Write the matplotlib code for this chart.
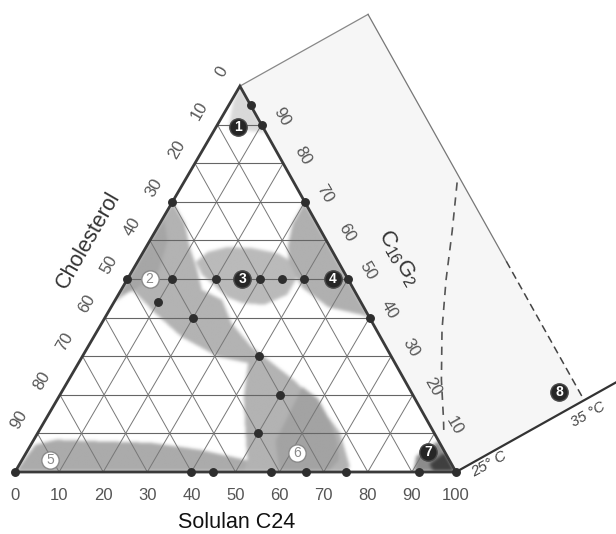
import numpy as np
import matplotlib
matplotlib.use('Agg')
import matplotlib.pyplot as plt
from matplotlib.patches import Polygon
from matplotlib.path import Path

plt.rcParams['font.family'] = ['Liberation Sans', 'DejaVu Sans']
plt.rcParams['mathtext.fontset'] = 'custom'
plt.rcParams['mathtext.rm'] = 'Liberation Sans'
plt.rcParams['mathtext.it'] = 'Liberation Sans:italic'

# ---------------- data (ternary: Solulan C24 %, C16G2 %) ----------------
ticks_bottom = [0, 10, 20, 30, 40, 50, 60, 70, 80, 90, 100]   # Solulan C24
ticks_left = [0, 10, 20, 30, 40, 50, 60, 70, 80, 90]          # Cholesterol
ticks_right = [10, 20, 30, 40, 50, 60, 70, 80, 90]            # C16G2

dots_s = [5, 10, 0, 30, 0, 10, 20, 30, 35, 40, 50, 10, 20, 60, 40, 50, 50,
          0, 40, 45, 58, 66, 75, 91.5, 100]
dots_g = [95, 90, 70, 70, 50, 50, 50, 50, 50, 50, 50, 44, 40, 40, 30, 20, 10,
          0, 0, 0, 0, 0, 0, 0, 0]

phase_names = ['1', '2', '3', '4', '5', '6', '7']
phase_s = [5, 5, 26, 46.5, 6.5, 61.5, 91]
phase_g = [89.5, 50, 50, 50, 3, 5, 5.2]
phase_dark = [True, False, True, True, False, False, True]

# phase 8 lies in the temperature extension: (C16G2 %, temperature °C)
phase8_g, phase8_t = 4.3, 33.8

# phase-region outlines (Solulan %, C16G2 %) and their grey depth (0 white .. 1 black)
region1_s = [0, 12, 3, 0.5]
region1_g = [100, 88, 89, 96]

regionA_s = [0, 5.6, 9.9, 14.5, 18.3, 24.2, 29.4, 37.1, 41, 51.1, 60.8, 68.6,
             75.3, 75, 51, 51.1, 46.7, 42.0, 38.5, 30.9, 19.9, 10.7, 2.5, 0]
regionA_g = [70, 64.5, 58.3, 52.5, 47.2, 44.6, 38.6, 32.4, 30, 23.8, 16.8, 10.1,
             1.3, 0, 0, 3.1, 10.9, 19.4, 28.2, 29.8, 35.0, 41.2, 47.2, 44]

core6_s = [54, 59, 64, 69, 72, 71, 60, 55]
core6_g = [22, 19, 14, 8, 3, 0, 0, 8]

core2_s = [0, 4, 6, 3, 0]
core2_g = [66, 60, 52, 47, 46]

region3_s = [13.2, 14.6, 18.5, 24.3, 30.6, 35.2, 38.3, 38.3, 34.4, 29.1, 25.0, 20.5, 16.5]
region3_g = [54.4, 57.0, 58.3, 58.0, 56.7, 54.4, 50.3, 45.9, 43.3, 43.8, 45.3, 48.4, 51.0]

region4_s = [30, 30.1, 32.1, 34.6, 40.6, 49.3, 57.9, 60]
region4_g = [70, 64.5, 58.3, 54.1, 47.9, 42.7, 40.7, 40]

region5_s = [0, 0.5, 1, 5, 12, 27, 39, 47, 51, 52]
region5_g = [0, 4, 7, 8.3, 8, 7.5, 5.7, 3.9, 3, 0]

region7_s = [100, 92, 89, 90.5]
region7_g = [0, 8, 4, 0]
core7_s = [100, 95, 93, 95]
core7_g = [0, 5, 2, 0]

# dashed phase boundary in the extension (C16G2 %, temperature °C)
bound_g = [57, 48, 39, 29.6, 19.8, 11.7, 9.2]
bound_t = [34.7, 32.8, 30.8, 28.9, 27.2, 26.0, 25.6]

# ---------------- geometry ----------------
AX, AY = 0.51, 0.875


def tern(s, g):
    s = np.asarray(s, dtype=float) / 100.0
    g = np.asarray(g, dtype=float) / 100.0
    return s + AX * g, AY * g


edge = np.array([AX - 1.0, AY])
L = np.hypot(*edge)
nrm = np.array([AY, 1.0 - AX]) / L
WID = 0.333  # width of 10 °C


def ext(g, t):
    g = np.asarray(g, dtype=float)
    t = np.asarray(t, dtype=float)
    x, y = tern(100 - g, g)
    f = (t - 25.0) / 10.0 * WID
    return x + f * nrm[0], y + f * nrm[1]


fig = plt.figure(figsize=(6.16, 5.34), dpi=100)
ax = fig.add_axes([0, 0, 1, 1])
ax.set_xlim(-15 / 441, 601 / 441)
ax.set_ylim(-62 / 441, 472 / 441)
ax.axis('off')

# extension rectangle
rx, ry = ext([0, 100, 100, 0], [25, 25, 35, 35])
ax.add_patch(Polygon(np.column_stack([rx, ry]), closed=True, fc='#f6f6f6', ec='none', zorder=0))
x, y = ext([100, 100], [25, 35])
ax.plot(x, y, color='#888888', lw=0.9, zorder=2)
x, y = ext([100, 36], [35, 35])
ax.plot(x, y, color='#777777', lw=0.9, zorder=2)
x, y = ext([36, 0], [35, 35])
ax.plot(x, y, color='#444444', lw=1.1, ls=(0, (5, 3)), zorder=2)
x, y = ext([0, 0], [25, 38])
ax.plot(x, y, color='#333333', lw=1.6, zorder=3)
x, y = ext(bound_g, bound_t)
ax.plot(x, y, color='#555555', lw=1.2, ls=(0, (5, 4)), zorder=2)

# ---- shaded phase regions: rasterised, softly blurred ----
NX, NY = 700, 620
gx = np.linspace(0, 1, NX)
gy = np.linspace(0, AY, NY)
XX, YY = np.meshgrid(gx, gy)
pts = np.column_stack([XX.ravel(), YY.ravel()])
depth = np.zeros(XX.shape)
layers = [
    (region1_s, region1_g, 0.15),
    (regionA_s, regionA_g, 0.30),
    (core2_s, core2_g, 0.35),
    (core6_s, core6_g, 0.36),
    (region3_s, region3_g, 0.27),
    (region4_s + [60, 30], region4_g + [40, 70], 0.31),
    (region5_s, region5_g, 0.33),
    (region7_s, region7_g, 0.45),
    (core7_s, core7_g, 0.75),
]
for s, g, d in layers:
    px, py = tern(s, g)
    m = Path(np.column_stack([px, py])).contains_points(pts).reshape(XX.shape)
    depth = np.maximum(depth, m * d)
sig = 2.6
kx = np.arange(-9, 10)
ker = np.exp(-0.5 * (kx / sig) ** 2)
ker /= ker.sum()
depth = np.apply_along_axis(lambda r: np.convolve(r, ker, mode='same'), 1, depth)
depth = np.apply_along_axis(lambda c: np.convolve(c, ker, mode='same'), 0, depth)
img = 1.0 - depth
tx, ty = tern([0, 100, 0], [0, 0, 100])
tri = Polygon(np.column_stack([tx, ty]), closed=True, fc='none', ec='none')
ax.add_patch(tri)
im = ax.imshow(img, cmap='gray', vmin=0, vmax=1, origin='lower',
               extent=(0, 1, 0, AY), interpolation='bilinear', zorder=1, aspect='auto')
im.set_clip_path(tri)

# grid
for k in range(10, 100, 10):
    x, y = tern([0, 100 - k], [k, k])
    ax.plot(x, y, color='#666666', lw=0.8, zorder=2)
    x, y = tern([k, k], [0, 100 - k])
    ax.plot(x, y, color='#777777', lw=0.7, zorder=2)
    x, y = tern([100 - k, 0], [0, 100 - k])
    ax.plot(x, y, color='#777777', lw=0.7, zorder=2)

# triangle outline
x, y = tern([0, 100, 0, 0], [0, 0, 100, 0])
ax.plot(x, y, color='#3a3a3a', lw=2.0, zorder=3, solid_joinstyle='miter')

# dots
x, y = tern(dots_s, dots_g)
ax.plot(x, y, 'o', color='#2e2e2e', ms=5.4, zorder=4, ls='none')

# phase labels
for name, s, g, dark in zip(phase_names, phase_s, phase_g, phase_dark):
    x, y = tern(s, g)
    if dark:
        ax.plot(x, y, 'o', ms=12.5, mfc='#262626', mec='#4a4a4a', zorder=5)
        ax.text(x, y, name, color='white', fontsize=10, fontweight='bold',
                ha='center', va='center', zorder=6)
    else:
        ax.plot(x, y, 'o', ms=12.5, mfc='white', mec='#8a8a8a', mew=1.0, zorder=5)
        ax.text(x, y, name, color='#8a8a8a', fontsize=10,
                ha='center', va='center', zorder=6)
x, y = ext(phase8_g, phase8_t)
ax.plot(x, y, 'o', ms=12.5, mfc='#262626', mec='#4a4a4a', zorder=5)
ax.text(x, y, '8', color='white', fontsize=10, fontweight='bold', ha='center', va='center', zorder=6)

# tick labels
tick_col = '#555555'
for v in ticks_bottom:
    x, y = tern(v, 0)
    ax.text(x, y - 23 / 441, str(v), fontsize=12, color=tick_col, ha='center', va='center')
for v in ticks_left:
    x, y = tern(0, 100 - v)
    ax.text(x - 18 / 441, y + 14 / 441, str(v), fontsize=12, color=tick_col,
            ha='center', va='center', rotation=60, rotation_mode='anchor')
for v in ticks_right:
    x, y = tern(100 - v, v)
    ax.text(x + 20 / 441, y + 8 / 441, str(v), fontsize=12, color=tick_col,
            ha='center', va='center', rotation=-60, rotation_mode='anchor')

# axis titles
ax.text(73 / 441, 232 / 441, 'Cholesterol', fontsize=15.5, color='#333333',
        ha='center', va='center', rotation=60, rotation_mode='anchor')
ax.text(383 / 441, 214 / 441, r'C$_{\mathrm{16}}$G$_{\mathrm{2}}$', fontsize=16, color='#333333',
        ha='center', va='center', rotation=-60, rotation_mode='anchor')
ax.text(222 / 441, -50 / 441, 'Solulan C24', fontsize=15.5, color='#111111',
        ha='center', va='center')

# temperature labels
x, y = ext(-2, 27.2)
ax.text(x, y, '25° C', fontsize=11, style='italic', color='#444444', ha='center', va='center',
        rotation=29.2, rotation_mode='anchor')
x, y = ext(-3.2, 34.8)
ax.text(x, y, '35 °C', fontsize=10.5, style='italic', color='#444444', ha='center', va='center',
        rotation=29.2, rotation_mode='anchor')

fig.savefig('out.png', dpi=100)
